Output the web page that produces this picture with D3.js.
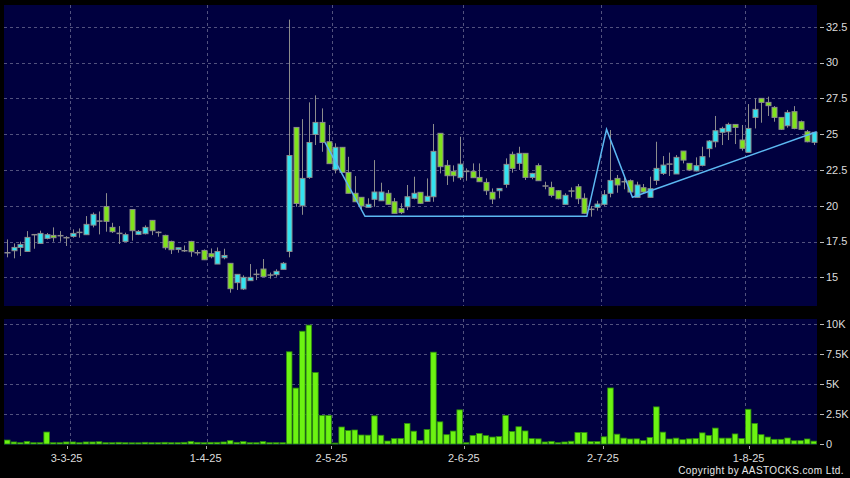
<!DOCTYPE html>
<html>
<head>
<meta charset="utf-8">
<script src="https://cdn.jsdelivr.net/npm/d3@7/dist/d3.min.js"></script>
<style>
html,body{margin:0;padding:0;background:#000;}
svg{display:block;}
text{font-family:"Liberation Sans",Arial,sans-serif;}
</style>
</head>
<body>
<svg id="chart" width="850" height="478"></svg>
<script>
// ---------------- DATA ----------------
const openP = [16.72,16.86,17.09,16.81,17.98,17.37,17.72,17.93,17.91,17.77,17.86,18.14,17.98,18.65,18.93,19.95,18.49,18.07,17.51,19.74,
18.00,18.05,18.98,18.14,17.93,17.51,16.95,16.86,17.51,16.72,16.88,16.65,15.93,16.37,15.98,14.63,14.19,14.77,15.21,15.58,
15.16,15.19,15.56,16.81,25.47,20.00,21.98,24.98,25.82,24.47,22.52,24.08,22.33,20.87,20.59,19.89,20.45,20.35,20.87,20.28,
19.80,19.93,20.52,20.94,20.31,20.63,25.06,22.82,22.40,21.96,22.40,22.40,21.98,21.63,20.94,21.05,21.49,23.59,22.96,23.66,
21.98,22.80,21.38,21.28,21.05,20.10,21.03,21.33,20.52,19.75,19.89,20.10,20.87,21.91,21.68,21.75,20.59,21.26,20.59,21.77,
22.26,22.91,22.22,23.82,22.96,22.43,22.82,23.99,24.47,25.13,25.17,25.68,24.59,23.73,26.17,27.50,27.22,26.87,26.17,25.59,
26.57,25.87,25.17,24.43];
const highP = [17.65,17.37,17.49,18.23,18.00,18.26,18.10,18.49,18.23,17.88,18.35,18.42,19.28,19.53,19.60,20.88,18.81,18.58,18.12,19.74,
18.30,18.63,19.00,18.21,17.98,17.56,17.07,17.23,17.55,16.91,16.95,17.02,17.09,17.00,16.00,15.21,15.14,15.93,15.56,16.28,
15.33,15.56,16.07,33.00,25.47,26.05,27.22,27.71,26.80,25.64,24.36,24.08,23.42,22.07,20.59,20.52,23.19,21.61,21.10,20.54,
20.17,21.45,22.03,20.94,21.91,25.71,25.06,23.19,22.82,24.82,22.61,22.96,22.96,21.91,21.21,21.21,23.31,23.78,24.12,23.66,
22.30,22.96,21.68,21.68,21.10,20.87,21.28,21.52,20.87,19.98,20.35,21.10,25.29,22.15,22.03,21.84,21.68,21.52,22.03,24.47,
23.47,23.71,23.54,23.82,22.96,23.38,24.12,24.59,26.27,25.52,25.80,25.68,25.64,27.10,27.50,27.50,27.62,26.96,26.17,26.69,
26.96,25.95,25.29,25.13];
const lowP = [16.40,16.33,16.49,16.81,17.00,17.33,17.65,17.49,17.49,17.19,17.77,17.77,17.98,18.49,18.00,18.19,18.10,17.33,17.47,17.56,
17.95,18.00,17.95,17.84,16.93,16.63,16.72,16.77,16.44,16.53,16.21,16.33,15.93,16.26,13.93,14.12,14.12,14.77,14.81,15.05,
14.91,15.05,15.56,16.40,19.93,19.37,21.88,24.24,23.77,22.94,22.26,22.33,20.87,20.28,19.70,19.89,19.93,20.35,20.10,19.47,
19.42,19.70,20.45,20.12,20.31,20.28,22.26,21.45,21.68,21.80,21.75,21.96,21.68,20.75,20.12,20.52,21.26,22.31,22.50,21.80,
21.85,21.75,21.15,20.59,20.45,20.10,20.59,20.12,19.42,19.24,19.66,20.00,20.59,20.91,21.15,20.90,20.59,20.90,20.59,21.45,
22.15,22.08,22.22,22.96,22.43,22.40,22.75,23.38,24.08,24.24,24.59,24.31,23.85,23.73,25.40,25.80,26.27,25.87,25.29,25.45,
25.34,25.29,24.43,24.24];
const closeP = [16.72,17.09,17.30,17.79,17.98,18.07,17.98,17.77,17.91,17.77,18.07,18.14,18.70,19.40,18.93,18.91,18.19,18.07,17.98,18.26,
18.21,18.49,18.26,18.14,17.07,16.93,17.07,16.86,16.79,16.72,16.23,16.44,16.81,16.53,14.21,15.21,15.00,15.00,15.21,15.05,
15.16,15.42,15.98,23.51,20.16,21.91,24.42,25.82,24.42,22.94,24.08,22.33,20.87,20.28,19.98,20.10,20.96,20.96,20.10,19.47,
19.52,20.63,20.87,20.17,20.66,23.80,22.73,22.10,22.10,22.91,22.40,21.96,21.68,21.05,20.47,21.21,22.89,22.61,23.66,21.98,
22.26,21.75,21.38,20.73,20.49,20.73,21.03,20.49,19.47,19.75,20.12,20.77,21.77,21.45,21.68,20.96,21.45,20.96,21.19,22.61,
22.84,22.91,23.38,23.19,22.50,22.80,23.43,24.52,25.24,25.40,25.68,25.47,24.01,25.40,26.73,27.22,26.99,26.17,25.34,26.52,
25.40,25.34,24.47,25.13];
const volume = [330,170,110,220,110,110,1000,110,110,170,170,110,170,170,190,110,110,140,110,100,
100,140,110,110,140,110,110,140,220,140,110,140,140,170,280,140,200,110,110,200,
110,110,110,7700,4670,9420,9930,5970,2390,2390,80,1420,1120,1170,750,740,2350,730,250,450,
470,1720,1070,290,1210,7670,1850,780,1080,2850,110,720,880,700,580,620,2390,1050,1440,1090,
450,430,170,220,110,170,230,960,960,200,200,600,4680,820,490,420,430,280,540,3100,
990,420,490,360,430,460,930,720,1330,490,490,840,460,2900,1720,780,580,390,390,500,
270,280,420,240];
// x-axis labels: [bar index, label]
const dateTicks = [[10,"3-3-25"],[31,"1-4-25"],[50,"2-5-25"],[70,"2-6-25"],[91,"2-7-25"],[113,"1-8-25"]];
const priceTicks = [15,17.5,20,22.5,25,27.5,30,32.5];
const volTicks = [0,2500,5000,7500,10000];
const volTickLabels = ["0","2.5K","5K","7.5K","10K"];
// drawn trend line: [bar index (fractional), price]
const trendIdx = [48.46,54.56,88.4,91.4,95.35,123.46];
const trendVal = [24.43,19.26,19.26,25.33,20.59,25.17];

// ---------------- LAYOUT ----------------
const N = openP.length;
const L = 4, R = 817;
const pTop = 5, pBot = 306;
const vTop = 319, vBot = 445;
const svg = d3.select("#chart");
svg.append("rect").attr("width",850).attr("height",478).attr("fill","#000");

const x = d3.scaleBand().domain(d3.range(N)).range([L,R]).padding(0);
const xc = d3.scaleLinear().domain([-0.5, N-0.5]).range([L,R]);
const xAxisPos = d3.scaleLinear().domain([0, N]).range([0.35, 821.4]);
const y = d3.scaleLinear().domain([13, 34.02]).range([pBot, pTop]);
const yv = d3.scaleLinear().domain([0, 10440]).range([444, vTop]);

const bg = "#00003f";
const gridCol = "#52527e";
svg.append("rect").attr("x",L).attr("y",pTop).attr("width",R-L).attr("height",pBot-pTop).attr("fill",bg);
svg.append("rect").attr("x",L).attr("y",vTop).attr("width",R-L).attr("height",vBot-vTop).attr("fill",bg);

// grid
const grid = svg.append("g").attr("stroke",gridCol).attr("stroke-width",1).attr("stroke-dasharray","3,3").attr("shape-rendering","crispEdges");
priceTicks.forEach(t=>{
  grid.append("line").attr("x1",L).attr("x2",R).attr("y1",Math.round(y(t))+0.5).attr("y2",Math.round(y(t))+0.5);
});
volTicks.slice(1).forEach(t=>{
  grid.append("line").attr("x1",L).attr("x2",R).attr("y1",Math.round(yv(t))+0.5).attr("y2",Math.round(yv(t))+0.5);
});
dateTicks.forEach(([i])=>{
  const gx = Math.round(x(i))+0.5;
  grid.append("line").attr("x1",gx).attr("x2",gx).attr("y1",pTop).attr("y2",pBot);
  grid.append("line").attr("x1",gx).attr("x2",gx).attr("y1",vTop).attr("y2",vBot);
});

// volume bars
const bw = x.bandwidth();
svg.append("g").selectAll("rect").data(volume).join("rect")
  .attr("x",(d,i)=>x(i)+0.5)
  .attr("width",bw-1)
  .attr("y",d=>yv(d))
  .attr("height",d=>Math.max(1,yv(0)-yv(d)))
  .attr("fill","#6cf312")
  .attr("stroke","#2c8a0e")
  .attr("stroke-width",0.8);

// candles
const upCol = "#33e3f0", dnCol = "#80e21c", edge = "#8c8c8c";
const cg = svg.append("g");
d3.range(N).forEach(i=>{
  const cx = Math.round(x(i)+bw/2)+0.5;
  const o = openP[i], c = closeP[i];
  cg.append("line").attr("x1",cx).attr("x2",cx).attr("y1",y(highP[i])).attr("y2",y(lowP[i]))
    .attr("stroke",edge).attr("stroke-width",1);
  if (Math.abs(o-c) < 0.01) {
    cg.append("line").attr("x1",cx-3).attr("x2",cx+3).attr("y1",y(o)).attr("y2",y(o))
      .attr("stroke",edge).attr("stroke-width",1.5);
  } else {
    const top = y(Math.max(o,c)), bot = y(Math.min(o,c));
    cg.append("rect").attr("x",cx-2.5).attr("width",5).attr("y",top).attr("height",Math.max(1,bot-top))
      .attr("fill", c>o ? upCol : dnCol).attr("stroke",edge).attr("stroke-width",1);
  }
});

// trend line
const tl = d3.line().x(d=>xc(d[0])).y(d=>y(d[1]));
svg.append("path").datum(trendIdx.map((t,k)=>[t,trendVal[k]]))
  .attr("d",tl).attr("fill","none").attr("stroke","#5cb8f2").attr("stroke-width",1.5);

// right axes
const ax = svg.append("g").attr("fill","#dcdcdc").attr("font-size","11px");
priceTicks.forEach(t=>{
  ax.append("line").attr("x1",820).attr("x2",824).attr("y1",Math.round(y(t))+0.5).attr("y2",Math.round(y(t))+0.5).attr("stroke","#bbb");
  ax.append("text").attr("x",826).attr("y",y(t)).attr("dy","0.35em").text(t);
});
volTicks.forEach((t,k)=>{
  ax.append("line").attr("x1",820).attr("x2",824).attr("y1",Math.round(yv(t))+0.5).attr("y2",Math.round(yv(t))+0.5).attr("stroke","#bbb");
  ax.append("text").attr("x",826).attr("y",yv(t)).attr("dy","0.35em").text(volTickLabels[k]);
});

// bottom date axis
dateTicks.forEach(([i,lab])=>{
  const tx = xAxisPos(i);
  ax.append("line").attr("x1",Math.round(tx)+0.5).attr("x2",Math.round(tx)+0.5).attr("y1",446).attr("y2",449).attr("stroke","#aaa");
  ax.append("text").attr("x",tx).attr("y",462).attr("text-anchor","middle").text(lab);
});

svg.append("text").attr("x",844).attr("y",474).attr("text-anchor","end")
  .attr("fill","#e8e8e8").attr("font-size","10px").attr("letter-spacing","0.4px")
  .text("Copyright by AASTOCKS.com Ltd.");
</script>
</body>
</html>
